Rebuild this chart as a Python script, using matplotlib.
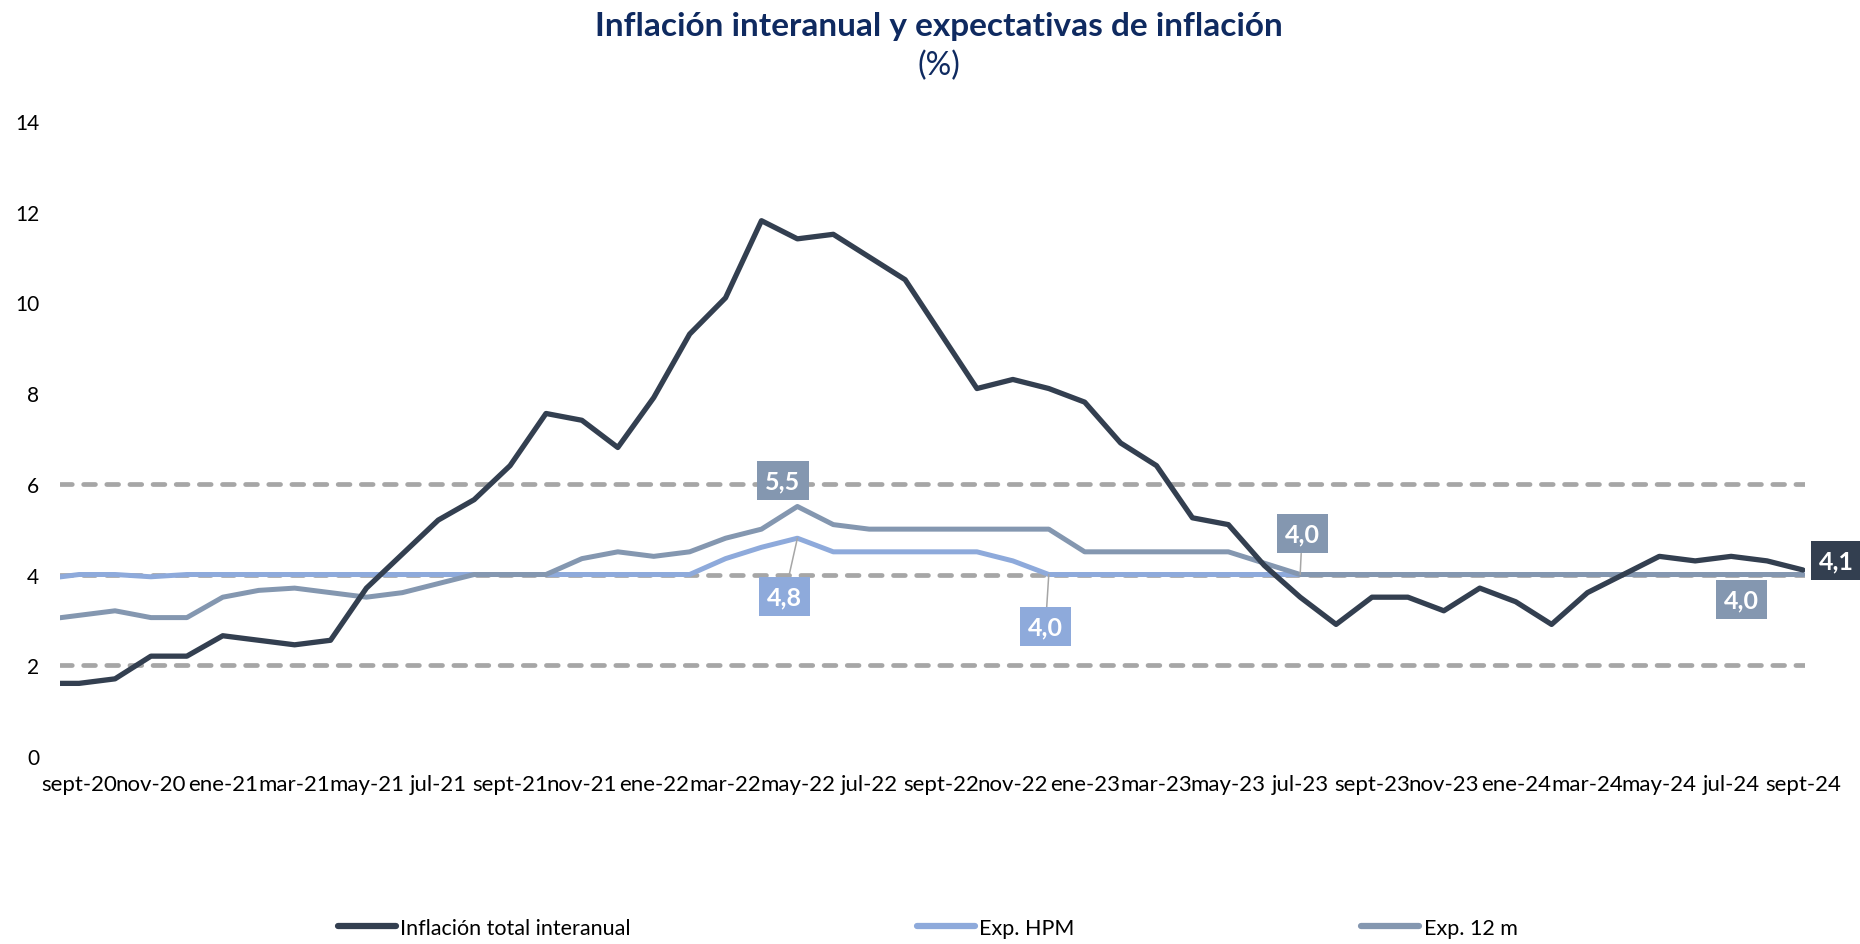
import matplotlib.pyplot as plt
import numpy as np
from matplotlib.lines import Line2D

plt.rcParams['font.family'] = ['Lato', 'DejaVu Sans']

# meses (ago-20 solo asoma por el borde izquierdo)
meses = ['ago-20', 'sept-20', 'oct-20', 'nov-20', 'dic-20',
         'ene-21', 'feb-21', 'mar-21', 'abr-21', 'may-21', 'jun-21', 'jul-21', 'ago-21', 'sept-21', 'oct-21', 'nov-21', 'dic-21',
         'ene-22', 'feb-22', 'mar-22', 'abr-22', 'may-22', 'jun-22', 'jul-22', 'ago-22', 'sept-22', 'oct-22', 'nov-22', 'dic-22',
         'ene-23', 'feb-23', 'mar-23', 'abr-23', 'may-23', 'jun-23', 'jul-23', 'ago-23', 'sept-23', 'oct-23', 'nov-23', 'dic-23',
         'ene-24', 'feb-24', 'mar-24', 'abr-24', 'may-24', 'jun-24', 'jul-24', 'ago-24', 'sept-24']

inflacion = [1.6, 1.6, 1.7, 2.2, 2.2,
             2.65, 2.55, 2.45, 2.55, 3.7, 4.45, 5.2, 5.65, 6.4, 7.55, 7.4, 6.8,
             7.9, 9.3, 10.1, 11.8, 11.4, 11.5, 11.0, 10.5, 9.3, 8.1, 8.3, 8.1,
             7.8, 6.9, 6.4, 5.25, 5.1, 4.2, 3.5, 2.9, 3.5, 3.5, 3.2, 3.7,
             3.4, 2.9, 3.6, 4.0, 4.4, 4.3, 4.4, 4.3, 4.1]

exp_hpm = [3.9, 4.0, 4.0, 3.95, 4.0,
           4.0, 4.0, 4.0, 4.0, 4.0, 4.0, 4.0, 4.0, 4.0, 4.0, 4.0, 4.0,
           4.0, 4.0, 4.35, 4.6, 4.8, 4.5, 4.5, 4.5, 4.5, 4.5, 4.3, 4.0,
           4.0, 4.0, 4.0, 4.0, 4.0, 4.0, 4.0, 4.0, 4.0, 4.0, 4.0, 4.0,
           4.0, 4.0, 4.0, 4.0, 4.0, 4.0, 4.0, 4.0, 4.0]

exp_12m = [3.0, 3.1, 3.2, 3.05, 3.05,
           3.5, 3.65, 3.7, 3.6, 3.5, 3.6, 3.8, 4.0, 4.0, 4.0, 4.35, 4.5,
           4.4, 4.5, 4.8, 5.0, 5.5, 5.1, 5.0, 5.0, 5.0, 5.0, 5.0, 5.0,
           4.5, 4.5, 4.5, 4.5, 4.5, 4.25, 4.0, 4.0, 4.0, 4.0, 4.0, 4.0,
           4.0, 4.0, 4.0, 4.0, 4.0, 4.0, 4.0, 4.0, 4.0]

rango_meta = [2, 4, 6]
nombres = ['Inflación total interanual', 'Exp. HPM', 'Exp. 12 m']

c_inf = '#333f50'
c_hpm = '#8eaadb'
c_12m = '#8497b0'
c_gris = '#a6a6a6'
c_titulo = '#0f2a60'

x = np.arange(len(meses))

fig = plt.figure(figsize=(18.6, 9.45), dpi=100)
ax = fig.add_axes([0.0323, 0.199, 0.938, 0.672])

for v in rango_meta:
    ax.axhline(v, color=c_gris, lw=3.4, ls=(0, (2.5, 2.4)), dash_capstyle='round', zorder=1)

ax.plot(x, exp_hpm, color=c_hpm, lw=3.6, zorder=2, solid_capstyle='round')
ax.plot(x, exp_12m, color=c_12m, lw=3.6, zorder=3, solid_capstyle='round')
ax.plot(x, inflacion, color=c_inf, lw=3.8, zorder=4, solid_capstyle='round')

ax.set_xlim(0.47, 49.05)
ax.set_ylim(0, 14)
ax.set_yticks(range(0, 15, 2))
ax.set_xticks(x[1::2])
ax.set_xticklabels(meses[1::2])
ax.tick_params(axis='both', length=0, colors='black')
ax.tick_params(axis='x', pad=13, labelsize=16)
ax.tick_params(axis='y', pad=15, labelsize=15)
for s in ax.spines.values():
    s.set_visible(False)


def etiqueta(i, serie, color, dx, dy, linea):
    props = dict(arrowstyle='-', color=c_gris, lw=1.1, shrinkA=0, shrinkB=0) if linea else None
    ax.annotate(f'{serie[i]:.1f}'.replace('.', ','), xy=(x[i], serie[i]),
                xytext=(dx, dy), textcoords='offset points',
                ha='center', va='center', fontsize=18, fontweight='bold', color='white',
                bbox=dict(boxstyle='square,pad=0.32', fc=color, ec='none'),
                arrowprops=props, annotation_clip=False, zorder=6)


etiqueta(21, exp_12m, c_12m, -10.4, 18.4, False)
etiqueta(21, exp_hpm, c_hpm, -9.4, -42, True)
etiqueta(28, exp_hpm, c_hpm, -2.4, -37.7, True)
etiqueta(35, exp_12m, c_12m, 1.4, 29.2, True)
etiqueta(49, exp_12m, c_12m, -44.6, -18.3, False)
etiqueta(49, inflacion, c_inf, 24, 6.5, False)

fig.text(0.505, 0.972, 'Inflación interanual y expectativas de inflación',
         ha='center', va='center', fontsize=24, fontweight='bold', color=c_titulo)
fig.text(0.505, 0.930, '(%)', ha='center', va='center', fontsize=23, color=c_titulo)

handles = [Line2D([], [], color=c, lw=4.5, solid_capstyle='round') for c in (c_inf, c_hpm, c_12m)]
fig.legend(handles, nombres, loc='center', bbox_to_anchor=(0.4987, 1 - 929 / 945), ncol=3,
           frameon=False, fontsize=15.5, handlelength=2.7, handletextpad=0.2, columnspacing=13.3)

fig.savefig('out.png', dpi=100)
